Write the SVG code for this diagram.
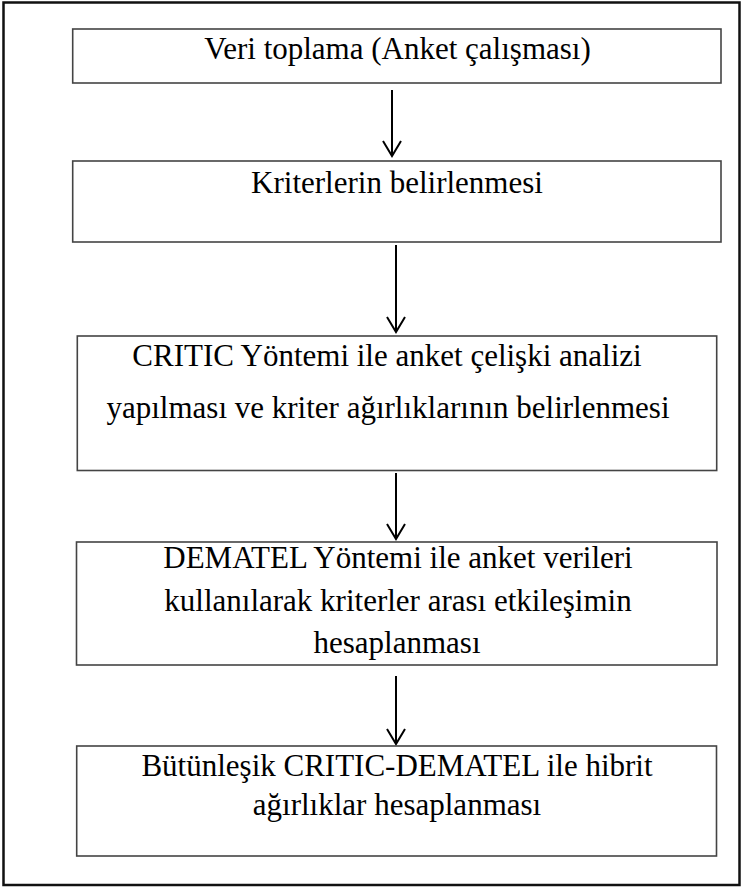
<svg xmlns="http://www.w3.org/2000/svg" width="742" height="887" viewBox="0 0 742 887">
<defs>
<marker id="ah" markerUnits="userSpaceOnUse" markerWidth="24" markerHeight="24" viewBox="-20 -12 24 24" refX="0" refY="0" orient="auto">
<path d="M-15,-9 L0,0 L-15,9" fill="none" stroke="#000" stroke-width="2"/>
</marker>
</defs>
<style>
.frame{fill:none;stroke:#111;stroke-width:2.5}
.box{fill:#fff;stroke:#444;stroke-width:1.6}
.t{font-family:"Liberation Serif","Times New Roman",serif;font-size:31px;fill:#000;text-anchor:middle}
.arr{stroke:#000;stroke-width:2;fill:none}
</style>
<rect width="742" height="887" fill="#fff"/>
<rect class="frame" x="3.5" y="2.5" width="736" height="882.5"/>
<g id="connectors">
<path class="arr" d="M392,90 V156" marker-end="url(#ah)"/>
<path class="arr" d="M396,245 V332" marker-end="url(#ah)"/>
<path class="arr" d="M396,473 V539" marker-end="url(#ah)"/>
<path class="arr" d="M396,676 V744" marker-end="url(#ah)"/>
</g>
<g id="n1">
<rect class="box" x="72.7" y="29" width="648.3" height="54"/>
<text class="t" x="397.5" y="59">Veri toplama (Anket çalışması)</text>
</g>
<g id="n2">
<rect class="box" x="72.7" y="161" width="648.3" height="81"/>
<text class="t" x="397" y="193">Kriterlerin belirlenmesi</text>
</g>
<g id="n3">
<rect class="box" x="77.3" y="336" width="639.4" height="134.5"/>
<text class="t" x="387" y="366">CRITIC Yöntemi ile anket çelişki analizi</text>
<text class="t" x="388" y="418">yapılması ve kriter ağırlıklarının belirlenmesi</text>
</g>
<g id="n4">
<rect class="box" x="76.5" y="542" width="640.5" height="123"/>
<text class="t" x="398" y="568">DEMATEL Yöntemi ile anket verileri</text>
<text class="t" x="398" y="611">kullanılarak kriterler arası etkileşimin</text>
<text class="t" x="397" y="653">hesaplanması</text>
</g>
<g id="n5">
<rect class="box" x="76.7" y="746" width="639.8" height="110"/>
<text class="t" x="397" y="776">Bütünleşik CRITIC-DEMATEL ile hibrit</text>
<text class="t" x="397" y="815">ağırlıklar hesaplanması</text>
</g>
</svg>
